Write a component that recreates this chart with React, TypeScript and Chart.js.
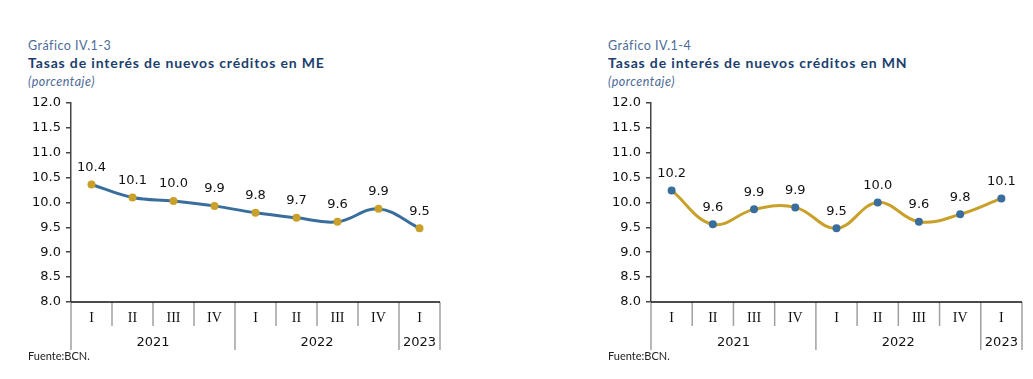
import React, { useEffect, useRef } from "react";
import { Chart, registerables } from "chart.js";

Chart.register(...registerables);

const quarters = ["I", "II", "III", "IV", "I", "II", "III", "IV", "I"];
const years = ["2021", "2022", "2023"];
const yearSpans = [4, 4, 1];
const meValues = [10.36, 10.1, 10.03, 9.93, 9.79, 9.69, 9.61, 9.87, 9.48];
const mnValues = [10.24, 9.56, 9.86, 9.9, 9.48, 10.0, 9.61, 9.76, 10.08];
const BLUE = "#396e9c";
const GOLD = "#c8a02a";

const bandPlugin = {
  id: "bands",
  afterDraw(chart: any) {
    const { ctx, chartArea } = chart;
    const { left, right, bottom } = chartArea;
    const n = quarters.length;
    const w = (right - left) / n;
    ctx.save();
    ctx.strokeStyle = "#a0a0a0";
    ctx.lineWidth = 1.5;
    const yearBounds: number[] = [];
    let acc = 0;
    yearSpans.forEach((s) => {
      acc += s;
      yearBounds.push(acc);
    });
    for (let i = 0; i <= n; i++) {
      const x = left + i * w;
      const long = i === 0 || yearBounds.includes(i);
      ctx.beginPath();
      ctx.moveTo(x, bottom);
      ctx.lineTo(x, bottom + (long ? 48 : 24));
      ctx.stroke();
    }
    ctx.strokeStyle = "#111";
    ctx.lineWidth = 1.5;
    ctx.beginPath();
    ctx.moveTo(left, bottom);
    ctx.lineTo(right, bottom);
    ctx.stroke();
    ctx.fillStyle = "#111";
    ctx.textAlign = "center";
    ctx.textBaseline = "middle";
    ctx.font = "14px 'Liberation Serif'";
    quarters.forEach((q, i) => {
      ctx.fillText(q, left + (i + 0.5) * w, bottom + 16);
    });
    ctx.font = "13px 'DejaVu Sans'";
    let start = 0;
    years.forEach((y, k) => {
      const span = yearSpans[k];
      const cx = left + (start + span / 2) * w;
      ctx.fillText(y, cx, bottom + 41);
      start += span;
    });
    const meta = chart.getDatasetMeta(0);
    const data = chart.data.datasets[0].data as number[];
    ctx.font = "13px 'DejaVu Sans'";
    meta.data.forEach((pt: any, i: number) => {
      ctx.fillText(data[i].toFixed(1), pt.x, pt.y - 17);
    });
    ctx.restore();
  },
};

function Panel(props: {
  left: number;
  code: string;
  title: string;
  values: number[];
  lineColor: string;
  pointColor: string;
  width: number;
}) {
  const ref = useRef<HTMLCanvasElement>(null);
  useEffect(() => {
    const chart = new Chart(ref.current!, {
      type: "line",
      data: {
        labels: quarters.map((q, i) => q + i),
        datasets: [
          {
            data: props.values,
            borderColor: props.lineColor,
            borderWidth: 3,
            tension: 0.4,
            pointRadius: 4,
            pointBackgroundColor: props.pointColor,
            pointBorderColor: props.pointColor,
            pointBorderWidth: 0,
          },
        ],
      },
      options: {
        responsive: false,
        animation: false,
        devicePixelRatio: 1,
        layout: { padding: { left: 0, right: 5, top: 11, bottom: 58 } },
        plugins: { legend: { display: false }, tooltip: { enabled: false } },
        scales: {
          x: { type: "category", display: false, offset: true },
          y: {
            min: 8,
            max: 12,
            afterFit: (s: any) => {
              s.width = 51;
            },
            ticks: {
              stepSize: 0.5,
              color: "#111",
              padding: 5,
              font: { family: "'DejaVu Sans'", size: 13 },
              callback: (v: any) => Number(v).toFixed(1),
            },
            grid: {
              drawOnChartArea: false,
              drawTicks: true,
              tickLength: 5,
              color: "#444",
              lineWidth: 1.5,
            },
            border: { color: "#444", width: 1.5 },
          },
        },
      },
      plugins: [bandPlugin],
    });
    return () => chart.destroy();
  }, []);
  const textLeft = props.left + 8;
  return (
    <>
      <div
        style={{
          position: "absolute",
          left: textLeft,
          top: 38,
          fontFamily: "Lato, 'Noto Sans', sans-serif",
          fontSize: 12.5,
          letterSpacing: 0.5,
          color: "#4b6a98",
          whiteSpace: "nowrap",
        }}
      >
        {props.code}
      </div>
      <div
        style={{
          position: "absolute",
          left: textLeft,
          top: 54,
          fontFamily: "Lato, 'Noto Sans', sans-serif",
          fontWeight: "bold",
          fontSize: 14,
          letterSpacing: 0.85,
          color: "#1c3e6e",
          whiteSpace: "nowrap",
        }}
      >
        {props.title}
      </div>
      <div
        style={{
          position: "absolute",
          left: textLeft,
          top: 74,
          fontFamily: "Lato, 'Noto Sans', sans-serif",
          fontStyle: "italic",
          fontSize: 12.5,
          letterSpacing: 0.5,
          color: "#4b6a98",
          whiteSpace: "nowrap",
        }}
      >
        (porcentaje)
      </div>
      <canvas
        ref={ref}
        width={props.width}
        height={270}
        style={{ position: "absolute", left: props.left, top: 90 }}
      />
      <div
        style={{
          position: "absolute",
          left: textLeft,
          top: 349,
          fontFamily: "Lato, 'Noto Sans', sans-serif",
          fontSize: 11,
          color: "#222",
          whiteSpace: "nowrap",
        }}
      >
        Fuente:BCN.
      </div>
    </>
  );
}

export default function App() {
  return (
    <div
      style={{
        position: "absolute",
        left: 0,
        top: 0,
        width: 1033,
        height: 379,
        background: "#fff",
      }}
    >
      <Panel
        left={20}
        width={425}
        code="Gráfico IV.1-3"
        title="Tasas de interés de nuevos créditos en ME"
        values={meValues}
        lineColor={BLUE}
        pointColor={GOLD}
      />
      <Panel
        left={600}
        width={427}
        code="Gráfico IV.1-4"
        title="Tasas de interés de nuevos créditos en MN"
        values={mnValues}
        lineColor={GOLD}
        pointColor={BLUE}
      />
    </div>
  );
}
